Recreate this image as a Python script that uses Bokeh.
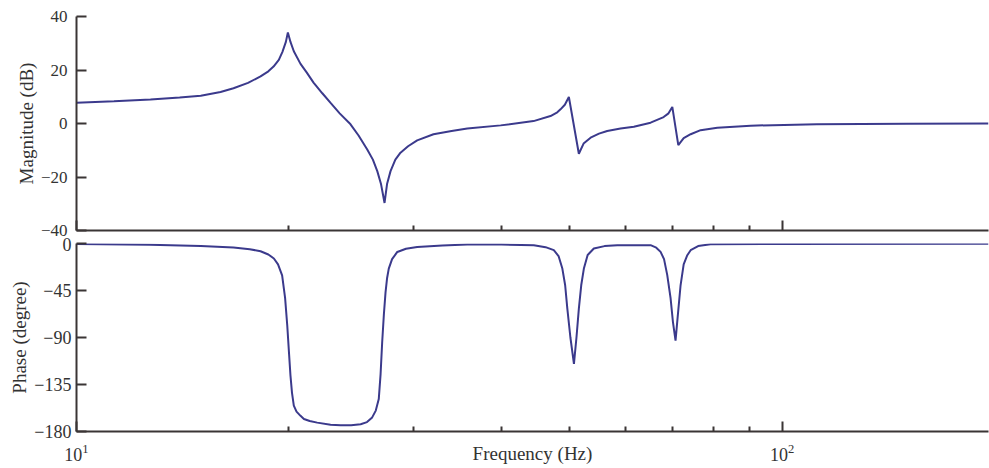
from bokeh.plotting import figure
from bokeh.layouts import column
from bokeh.models import FixedTicker, LogTickFormatter, CustomJSTickFormatter, Range1d
from bokeh.embed import file_html
from bokeh.resources import INLINE

# ---- data ----
mag_freq = [10.0, 11.3, 12.73, 14.0, 15.0, 16.0, 16.69, 17.5, 18.23, 18.7, 19.02, 19.35,
            19.58, 19.8, 19.93, 20.1, 20.32, 20.77, 21.2, 21.67, 22.3, 22.91, 23.6,
            24.45, 25.1, 25.82, 26.3, 26.68, 27.0, 27.32, 27.55, 27.86, 28.3, 28.78,
            29.5, 30.39, 32.05, 34.0, 35.79, 39.9, 44.42, 46.95, 48.0, 48.51, 49.2,
            49.85, 51.5, 52.3, 53.51, 55.0, 56.49, 59.0, 61.62, 65.08, 67.91, 69.0,
            69.86, 71.24, 72.5, 74.17, 76.62, 80.9, 90.2, 112.0, 150.0, 196.0]
mag_db = [7.8, 8.3, 9.0, 9.7, 10.4, 11.8, 13.2, 15.2, 17.6, 19.5, 21.3, 23.8,
          26.8, 30.5, 34.0, 30.5, 27.0, 22.3, 19.0, 15.3, 11.3, 7.7, 3.8,
          -0.3, -4.5, -9.7, -13.5, -17.8, -22.5, -29.7, -22.5, -17.8, -13.5, -10.9,
          -8.5, -6.3, -4.0, -2.8, -1.9, -0.7, 0.9, 2.8, 4.2, 5.3, 7.0,
          9.9, -11.3, -7.5, -5.3, -3.8, -2.8, -1.9, -1.2, 0.3, 2.4, 3.8,
          6.2, -8.1, -5.5, -4.0, -2.5, -1.6, -0.8, -0.3, -0.1, 0.0]

phase_freq = [10.0, 12.7, 15.0, 16.69, 17.6, 18.23, 18.7, 19.04, 19.3, 19.56, 19.75,
              19.89, 20.0, 20.1, 20.2, 20.32, 20.5, 20.77, 21.0, 21.4, 21.93, 22.91,
              23.67, 24.5, 25.27, 25.8, 26.24, 26.55, 26.81, 26.97, 27.11, 27.26,
              27.41, 27.55, 27.7, 28.0, 28.48, 29.3, 30.39, 33.0, 35.79, 40.0,
              44.46, 46.2, 47.46, 48.2, 48.8, 49.25, 49.6, 50.1, 50.68, 51.1,
              51.5, 51.9, 52.35, 53.0, 54.08, 56.0, 58.38, 65.08, 66.3, 67.24,
              68.0, 68.71, 69.46, 70.0, 70.6, 71.1, 71.77, 72.5, 73.36, 74.17,
              76.0, 79.12, 100.0, 196.0]
phase_deg = [-0.5, -1.2, -2.3, -3.9, -5.5, -7.4, -10.5, -14.4, -20.0, -30.5, -52.0,
             -78.5, -104.0, -126.5, -143.0, -155.3, -161.0, -165.0, -168.0, -170.0, -171.5, -173.5,
             -174.0, -174.0, -173.0, -171.0, -166.5, -160.0, -149.0, -125.0, -94.5, -68.0,
             -46.5, -33.0, -24.0, -15.0, -8.1, -5.0, -3.3, -1.8, -1.0, -1.0,
             -1.6, -3.5, -6.4, -12.0, -24.0, -40.0, -62.4, -90.0, -115.3, -90.0,
             -62.4, -40.0, -24.0, -11.0, -4.8, -2.5, -1.6, -1.6, -4.0, -8.0,
             -15.0, -30.0, -52.0, -75.0, -93.0, -70.0, -40.0, -20.0, -11.2, -6.4,
             -2.5, -0.7, -0.4, -0.3]

mag_ticks = [-40, -20, 0, 20, 40]
phase_ticks = [-180, -135, -90, -45, 0]
freq_major_ticks = [10, 100]
freq_minor_ticks = [20, 30, 40, 50, 60, 70, 80, 90]
freq_range = (10, 196)
mag_range = (-40, 40)
phase_range = (-180, 0)

LINE = "#3b3a8c"
AX = "#3a3535"
TXT = "#333333"
FONT = "Liberation Serif"


def style_axes(p, tick_size):
    p.outline_line_color = None
    p.grid.visible = False
    p.background_fill_color = "white"
    p.border_fill_color = "white"
    for ax in p.axis:
        ax.axis_line_color = AX
        ax.axis_line_width = 2
        ax.major_tick_line_color = AX
        ax.major_tick_line_width = 2
        ax.minor_tick_line_color = AX
        ax.minor_tick_line_width = 2
        ax.major_tick_out = 0
        ax.major_tick_in = 10
        ax.minor_tick_out = 0
        ax.minor_tick_in = 5
        ax.major_label_text_font = FONT
        ax.major_label_text_font_size = tick_size
        ax.major_label_text_color = TXT
        ax.axis_label_text_font = FONT
        ax.axis_label_text_font_size = "19px"
        ax.axis_label_text_font_style = "normal"
        ax.axis_label_text_color = TXT


# ---- magnitude panel ----
p1 = figure(width=989, height=237, x_axis_type="log",
            x_range=Range1d(*freq_range), y_range=Range1d(*mag_range),
            output_backend="svg", toolbar_location=None,
            min_border_left=76, min_border_right=1, min_border_top=16,
            min_border_bottom=7)
p1.line(mag_freq, mag_db, line_color=LINE, line_width=2)
style_axes(p1, "17px")
p1.yaxis.ticker = FixedTicker(ticks=mag_ticks)
p1.yaxis.axis_label = "Magnitude (dB)"
p1.yaxis.major_label_standoff = 9
p1.yaxis.axis_label_standoff = 1
p1.xaxis.ticker = FixedTicker(ticks=freq_major_ticks, minor_ticks=freq_minor_ticks)
p1.xaxis.formatter = CustomJSTickFormatter(code="return ''")
p1.xaxis.major_label_standoff = 0

# ---- phase panel ----
p2 = figure(width=989, height=231, x_axis_type="log",
            x_range=p1.x_range, y_range=Range1d(*phase_range),
            output_backend="svg", toolbar_location=None,
            min_border_left=76, min_border_right=1, min_border_top=6,
            min_border_bottom=37)
p2.line(phase_freq, phase_deg, line_color=LINE, line_width=2)
style_axes(p2, "18px")
p2.yaxis.ticker = FixedTicker(ticks=phase_ticks)
p2.yaxis.axis_label = "Phase (degree)"
p2.yaxis.major_label_standoff = 5
p2.yaxis.axis_label_standoff = 1
p2.xaxis.ticker = FixedTicker(ticks=freq_major_ticks, minor_ticks=freq_minor_ticks)
p2.xaxis.formatter = LogTickFormatter()
p2.xaxis.axis_label = "Frequency (Hz)"
p2.xaxis.major_label_standoff = 12
p2.xaxis.axis_label_standoff = -21

layout = column(p1, p2, spacing=0)
open("out.html", "w").write(file_html(layout, INLINE))
